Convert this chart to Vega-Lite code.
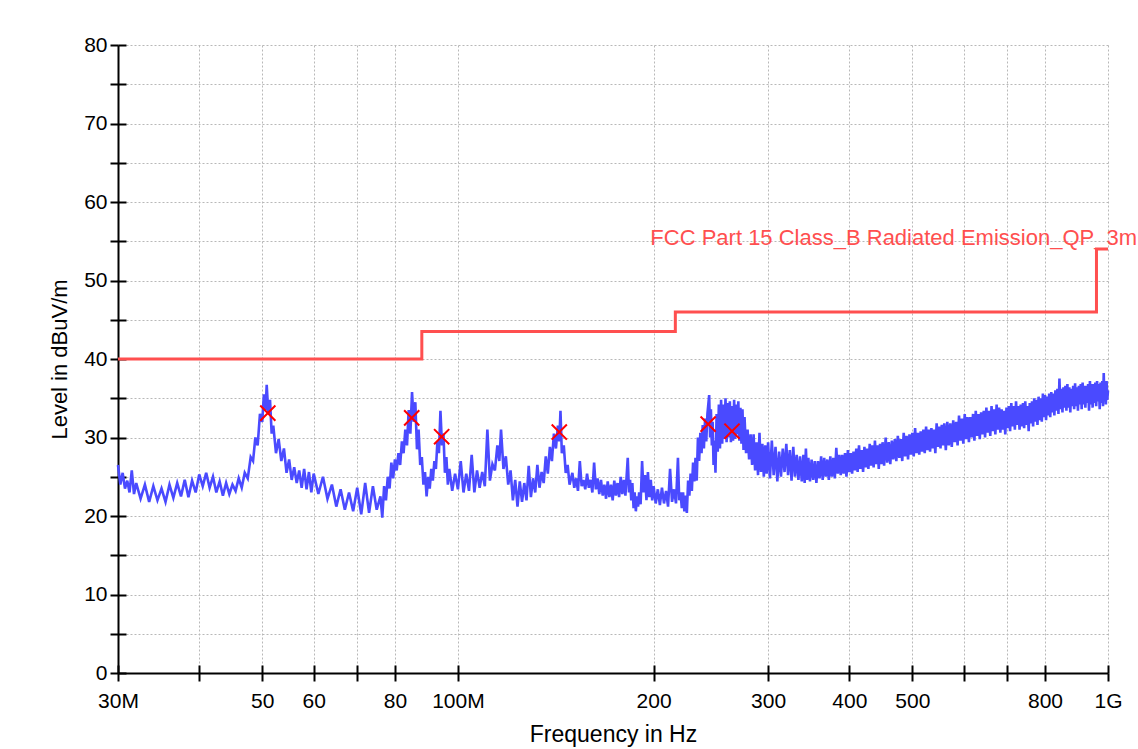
{
  "$schema": "https://vega.github.io/schema/vega-lite/v6.json",
  "autosize": "none",
  "width": 990,
  "height": 628,
  "padding": {"left": 118, "top": 45, "right": 30, "bottom": 76},
  "background": "white",
  "config": {
    "view": {"stroke": null},
    "axis": {
      "domainColor": "black", "domainWidth": 2,
      "tickColor": "black", "tickWidth": 2,
      "gridColor": "#b8b8b8", "gridDash": [2, 2], "gridWidth": 1,
      "labelColor": "black", "labelFont": "Liberation Sans", "labelFontSize": 21,
      "titleColor": "black", "titleFont": "Liberation Sans", "titleFontSize": 22, "titleFontWeight": "normal"
    }
  },
  "datasets": {
    "limit": [
      {"f": 30, "v": 40}, {"f": 88, "v": 43.5}, {"f": 216, "v": 46}, {"f": 960, "v": 54}, {"f": 1000, "v": 54}
    ],
    "peaks": [
      {"f": 51.0, "v": 33.1}, {"f": 84.9, "v": 32.5}, {"f": 94.4, "v": 30.1},
      {"f": 143.2, "v": 30.7}, {"f": 242.6, "v": 31.7}, {"f": 264.0, "v": 30.8}
    ],
    "label": [
      {"f": 1000, "v": 54, "text": "FCC Part 15 Class_B Radiated Emission_QP_3m"}
    ],
    "trace": [
      {"f":30,"v":26.5},{"f":30.25,"v":24.0},{"f":30.5,"v":25.5},{"f":30.75,"v":23.5},{"f":31,"v":24.5},{"f":31.25,"v":23.0},
      {"f":31.5,"v":25.8},{"f":31.75,"v":22.8},{"f":32,"v":24.2},{"f":32.5,"v":22.2},{"f":33,"v":24.0},{"f":33.5,"v":21.8},
      {"f":34,"v":23.8},{"f":34.5,"v":22.0},{"f":35,"v":23.5},{"f":35.5,"v":21.8},{"f":36,"v":24.0},{"f":36.5,"v":22.3},
      {"f":37,"v":24.2},{"f":37.5,"v":22.5},{"f":38,"v":24.6},{"f":38.5,"v":22.4},{"f":39,"v":24.5},{"f":39.5,"v":23.0},
      {"f":40,"v":25.3},{"f":40.5,"v":23.8},{"f":41,"v":25.5},{"f":41.5,"v":23.6},{"f":42,"v":25.0},{"f":42.5,"v":23.0},
      {"f":43,"v":24.4},{"f":43.5,"v":22.6},{"f":44,"v":24.2},{"f":44.5,"v":22.8},{"f":45,"v":24.0},{"f":45.5,"v":23.2},
      {"f":46,"v":24.8},{"f":46.5,"v":23.6},{"f":47,"v":25.5},{"f":47.5,"v":24.8},{"f":48,"v":27.5},{"f":48.4,"v":27.0},
      {"f":48.8,"v":30.0},{"f":49.2,"v":29.0},{"f":49.6,"v":33.0},{"f":50,"v":32.0},{"f":50.3,"v":35.5},{"f":50.6,"v":33.5},
      {"f":50.8,"v":36.7},{"f":51.1,"v":33.0},{"f":51.4,"v":34.8},{"f":51.7,"v":30.5},{"f":52,"v":31.5},{"f":52.5,"v":28.0},
      {"f":53,"v":29.8},{"f":53.5,"v":27.0},{"f":54,"v":28.6},{"f":54.5,"v":25.5},{"f":55,"v":27.2},{"f":55.5,"v":24.6},
      {"f":56,"v":26.2},{"f":56.5,"v":24.2},{"f":57,"v":25.8},{"f":57.5,"v":23.6},{"f":58,"v":26.0},{"f":58.5,"v":23.4},
      {"f":59,"v":25.6},{"f":59.5,"v":23.0},{"f":60,"v":25.4},{"f":61,"v":22.8},{"f":62,"v":25.0},{"f":63,"v":22.2},
      {"f":64,"v":24.0},{"f":65,"v":21.2},{"f":66,"v":23.4},{"f":67,"v":20.8},{"f":68,"v":23.0},{"f":69,"v":20.6},
      {"f":70,"v":23.6},{"f":71,"v":20.2},{"f":72,"v":24.2},{"f":73,"v":20.4},{"f":74,"v":23.8},{"f":75,"v":20.8},
      {"f":76,"v":22.5},{"f":76.5,"v":19.8},{"f":77,"v":23.8},{"f":77.5,"v":22.0},{"f":78,"v":25.0},{"f":78.5,"v":23.5},
      {"f":79,"v":26.8},{"f":79.5,"v":24.8},{"f":80,"v":27.2},{"f":80.5,"v":25.8},{"f":81,"v":28.0},{"f":81.5,"v":26.5},
      {"f":82,"v":29.5},{"f":82.5,"v":28.0},{"f":83,"v":31.0},{"f":83.5,"v":29.0},{"f":84,"v":33.5},{"f":84.5,"v":30.5},
      {"f":85,"v":35.8},{"f":85.5,"v":32.0},{"f":86,"v":34.5},{"f":86.5,"v":28.5},{"f":87,"v":31.0},{"f":87.5,"v":26.5},
      {"f":88,"v":27.5},{"f":88.5,"v":24.0},{"f":89,"v":25.6},{"f":89.5,"v":22.5},{"f":90,"v":25.0},{"f":90.5,"v":23.5},
      {"f":91,"v":26.0},{"f":91.5,"v":24.5},{"f":92,"v":27.0},{"f":92.5,"v":26.0},{"f":93,"v":29.5},{"f":93.5,"v":28.0},
      {"f":94,"v":33.4},{"f":94.5,"v":29.0},{"f":95,"v":30.5},{"f":95.5,"v":25.5},{"f":96,"v":27.5},{"f":96.5,"v":24.0},
      {"f":97,"v":26.0},{"f":98,"v":23.2},{"f":99,"v":25.4},{"f":100,"v":23.4},{"f":101,"v":27.0},{"f":102,"v":23.0},
      {"f":103,"v":25.4},{"f":104,"v":23.2},{"f":105,"v":27.8},{"f":106,"v":23.0},{"f":107,"v":25.8},{"f":108,"v":23.6},
      {"f":109,"v":25.6},{"f":110,"v":23.8},{"f":111,"v":31.0},{"f":112,"v":24.5},{"f":113,"v":26.6},{"f":114,"v":25.8},
      {"f":115,"v":29.0},{"f":115.8,"v":27.0},{"f":116.5,"v":31.0},{"f":117.5,"v":26.0},{"f":118.5,"v":27.6},{"f":119.5,"v":24.0},
      {"f":120.5,"v":25.8},{"f":121.5,"v":22.0},{"f":122.5,"v":24.6},{"f":123.5,"v":21.2},{"f":124.5,"v":24.4},{"f":125.5,"v":21.8},
      {"f":126.5,"v":24.2},{"f":127.5,"v":22.0},{"f":128.5,"v":26.4},{"f":129.5,"v":22.4},{"f":130.5,"v":24.8},{"f":131.5,"v":23.0},
      {"f":132.5,"v":26.5},{"f":133.5,"v":23.6},{"f":134.5,"v":25.6},{"f":135.5,"v":24.2},{"f":136.5,"v":27.6},{"f":137.5,"v":25.4},
      {"f":138.5,"v":28.8},{"f":139.5,"v":27.0},{"f":140.5,"v":30.5},{"f":141.5,"v":28.6},{"f":142.5,"v":31.5},{"f":143.2,"v":29.5},
      {"f":143.8,"v":33.4},{"f":144.5,"v":28.0},{"f":145.5,"v":29.0},{"f":146.5,"v":25.5},{"f":147.5,"v":26.5},{"f":148.5,"v":24.0},
      {"f":150,"v":25.5},{"f":151,"v":23.6},{"f":152,"v":24.8},{"f":153,"v":23.2},{"f":154,"v":27.0},{"f":155,"v":23.8},
      {"f":156,"v":24.6},{"f":157,"v":23.4},{"f":158,"v":25.4},{"f":159,"v":23.6},{"f":160,"v":24.6},{"f":161,"v":23.0},
      {"f":162,"v":26.8},{"f":163,"v":23.4},{"f":164,"v":24.8},{"f":165,"v":22.8},{"f":166,"v":24.6},{"f":167,"v":22.6},
      {"f":168,"v":24.0},{"f":169,"v":22.2},{"f":170,"v":24.4},{"f":171,"v":22.4},{"f":172,"v":24.0},{"f":173,"v":22.0},
      {"f":174,"v":24.5},{"f":175,"v":22.6},{"f":176,"v":24.2},{"f":177,"v":22.4},{"f":178,"v":25.0},{"f":179,"v":22.8},
      {"f":180,"v":24.6},{"f":181,"v":22.6},{"f":182.5,"v":27.4},{"f":183.3,"v":23.0},{"f":184,"v":24.6},{"f":184.8,"v":22.0},
      {"f":185.5,"v":24.2},{"f":186.3,"v":21.0},{"f":187,"v":23.0},{"f":187.8,"v":20.6},{"f":188.5,"v":22.5},{"f":189.3,"v":21.2},
      {"f":190,"v":23.0},{"f":191,"v":21.5},{"f":192,"v":27.0},{"f":193,"v":23.0},{"f":194,"v":25.2},{"f":195,"v":22.0},
      {"f":196,"v":25.6},{"f":197,"v":22.4},{"f":198,"v":24.6},{"f":199,"v":22.0},{"f":200,"v":23.8},{"f":201.5,"v":21.6},
      {"f":203,"v":23.4},{"f":204.5,"v":21.4},{"f":206,"v":23.6},{"f":207.5,"v":21.6},{"f":209,"v":23.2},{"f":210.5,"v":21.2},
      {"f":212,"v":26.0},{"f":213.5,"v":21.8},{"f":215,"v":23.4},{"f":216.5,"v":21.6},{"f":218,"v":27.4},{"f":219,"v":22.0},
      {"f":220,"v":23.0},{"f":221,"v":21.0},{"f":222,"v":23.0},{"f":223,"v":20.6},{"f":224,"v":22.6},{"f":225,"v":20.4},
      {"f":226,"v":24.5},{"f":227,"v":22.6},{"f":228,"v":25.4},{"f":229,"v":23.2},{"f":230,"v":26.8},{"f":231,"v":24.4},
      {"f":232,"v":27.4},{"f":233,"v":24.5},{"f":234,"v":30.0},{"f":235,"v":27.0},{"f":236,"v":30.6},{"f":237,"v":28.0},
      {"f":238,"v":31.6},{"f":239,"v":28.6},{"f":240,"v":32.4},{"f":241,"v":29.5},{"f":242,"v":33.0},{"f":243.5,"v":35.4},
      {"f":244.3,"v":30.0},{"f":245,"v":33.6},{"f":245.8,"v":29.0},{"f":246.5,"v":32.0},{"f":247.3,"v":26.5},{"f":248,"v":29.6},
      {"f":249,"v":25.5},{"f":250,"v":33.0},{"f":251,"v":28.2},{"f":252,"v":34.2},{"f":253,"v":28.6},{"f":254,"v":34.8},
      {"f":255,"v":29.2},{"f":256,"v":34.2},{"f":257,"v":29.8},{"f":258,"v":35.0},{"f":259,"v":29.4},{"f":260,"v":34.4},
      {"f":261,"v":30.0},{"f":262,"v":34.6},{"f":263,"v":29.4},{"f":264,"v":34.0},{"f":265,"v":29.6},{"f":266,"v":34.8},
      {"f":267,"v":29.8},{"f":268,"v":34.2},{"f":269,"v":30.4},{"f":270,"v":34.6},{"f":271,"v":29.6},{"f":272,"v":33.8},
      {"f":273,"v":29.2},{"f":274,"v":33.6},{"f":275,"v":28.4},{"f":276,"v":32.6},{"f":277.5,"v":28.0},{"f":279,"v":31.0},
      {"f":280.5,"v":27.2},{"f":282,"v":30.4},{"f":283.5,"v":26.5},{"f":285,"v":30.4},{"f":286.5,"v":25.8},{"f":288,"v":29.4},
      {"f":289.5,"v":25.2},{"f":291,"v":30.6},{"f":292.5,"v":25.6},{"f":294,"v":29.2},{"f":295.5,"v":25.0},{"f":297,"v":29.0},
      {"f":298.5,"v":25.4},{"f":300,"v":29.4},{"f":302,"v":24.8},{"f":304,"v":29.6},{"f":306,"v":25.2},{"f":308,"v":28.8},
      {"f":310,"v":24.4},{"f":312,"v":28.2},{"f":314,"v":25.0},{"f":316,"v":28.6},{"f":318,"v":25.6},{"f":320,"v":29.2},
      {"f":322,"v":25.2},{"f":324,"v":28.4},{"f":326,"v":24.5},{"f":328,"v":28.8},{"f":330,"v":25.0},{"f":332,"v":27.8},
      {"f":334,"v":24.6},{"f":336,"v":27.6},{"f":338,"v":24.4},{"f":340,"v":27.8},{"f":341.5,"v":24.2},{"f":343,"v":28.6},
      {"f":344.5,"v":24.6},{"f":346,"v":27.4},{"f":348,"v":24.4},{"f":350,"v":27.2},{"f":352,"v":24.6},{"f":354,"v":27.0},
      {"f":356,"v":24.2},{"f":358,"v":27.0},{"f":360,"v":24.8},{"f":362,"v":27.6},{"f":364,"v":24.6},{"f":366,"v":27.4},
      {"f":368,"v":25.0},{"f":370,"v":27.2},{"f":372,"v":24.6},{"f":374,"v":27.6},{"f":376,"v":25.0},{"f":378,"v":27.4},
      {"f":380,"v":24.8},{"f":382,"v":28.7},{"f":384,"v":25.4},{"f":386,"v":27.8},{"f":388,"v":25.2},{"f":390,"v":27.8},
      {"f":392,"v":25.4},{"f":394,"v":28.0},{"f":396,"v":25.0},{"f":398,"v":28.4},{"f":400,"v":25.6},{"f":402,"v":28.0},
      {"f":404,"v":25.4},{"f":406,"v":28.2},{"f":408,"v":25.8},{"f":410,"v":28.6},{"f":412,"v":25.6},{"f":414,"v":29.0},
      {"f":416,"v":26.0},{"f":418,"v":28.4},{"f":420,"v":25.6},{"f":422,"v":28.8},{"f":424,"v":26.2},{"f":426,"v":28.6},
      {"f":428,"v":26.0},{"f":430,"v":29.2},{"f":432,"v":26.4},{"f":434,"v":29.0},{"f":436,"v":26.2},{"f":438,"v":29.6},
      {"f":440,"v":26.6},{"f":442,"v":29.0},{"f":444,"v":26.0},{"f":446,"v":29.2},{"f":448,"v":26.6},{"f":450,"v":29.4},
      {"f":452.5,"v":26.4},{"f":455,"v":30.0},{"f":457.5,"v":26.8},{"f":460,"v":29.4},{"f":462.5,"v":26.6},{"f":465,"v":29.6},
      {"f":467.5,"v":27.2},{"f":470,"v":29.8},{"f":472.5,"v":27.0},{"f":475,"v":30.2},{"f":477.5,"v":27.4},{"f":480,"v":29.8},
      {"f":482.5,"v":27.0},{"f":485,"v":30.6},{"f":487.5,"v":27.6},{"f":490,"v":30.2},{"f":492.5,"v":27.2},{"f":495,"v":30.4},
      {"f":497.5,"v":27.8},{"f":500,"v":30.6},{"f":502.5,"v":27.6},{"f":505,"v":31.2},{"f":507.5,"v":28.0},{"f":510,"v":30.6},
      {"f":512.5,"v":27.8},{"f":515,"v":30.8},{"f":517.5,"v":28.2},{"f":520,"v":31.0},{"f":522.5,"v":28.0},{"f":525,"v":31.4},
      {"f":527.5,"v":28.4},{"f":530,"v":31.0},{"f":532.5,"v":28.2},{"f":535,"v":31.2},{"f":537.5,"v":28.6},{"f":540,"v":31.0},
      {"f":542.5,"v":28.0},{"f":545,"v":31.8},{"f":547.5,"v":28.8},{"f":550,"v":31.4},{"f":552.5,"v":28.6},{"f":555,"v":31.6},
      {"f":557.5,"v":29.0},{"f":560,"v":31.8},{"f":563,"v":28.4},{"f":566,"v":32.0},{"f":569,"v":29.0},{"f":572,"v":31.8},
      {"f":575,"v":28.8},{"f":578,"v":32.2},{"f":581,"v":29.4},{"f":584,"v":32.0},{"f":587,"v":29.0},{"f":590,"v":32.8},
      {"f":593,"v":29.6},{"f":596,"v":32.4},{"f":599,"v":29.2},{"f":602,"v":33.0},{"f":605,"v":29.8},{"f":608,"v":32.6},
      {"f":611,"v":29.4},{"f":614,"v":32.6},{"f":617,"v":30.0},{"f":620,"v":33.0},{"f":623,"v":29.6},{"f":626,"v":33.4},
      {"f":629,"v":30.2},{"f":632,"v":33.0},{"f":635,"v":29.8},{"f":638,"v":33.2},{"f":641,"v":30.4},{"f":644,"v":33.4},
      {"f":647,"v":30.0},{"f":650,"v":33.8},{"f":653,"v":30.6},{"f":656,"v":33.4},{"f":659,"v":30.2},{"f":662,"v":34.0},
      {"f":665,"v":30.8},{"f":668,"v":33.6},{"f":671,"v":30.4},{"f":674,"v":34.2},{"f":677,"v":31.0},{"f":680,"v":33.8},
      {"f":683,"v":30.6},{"f":686,"v":33.6},{"f":689,"v":31.0},{"f":692,"v":33.4},{"f":695,"v":30.4},{"f":698,"v":33.8},
      {"f":701,"v":31.2},{"f":704,"v":34.0},{"f":707,"v":30.8},{"f":710,"v":34.4},{"f":713,"v":31.4},{"f":716,"v":34.0},
      {"f":719,"v":31.0},{"f":722,"v":34.6},{"f":725,"v":31.6},{"f":728,"v":34.0},{"f":731,"v":31.0},{"f":734,"v":34.2},
      {"f":737,"v":31.4},{"f":740,"v":34.4},{"f":743,"v":31.2},{"f":746,"v":34.6},{"f":749,"v":31.6},{"f":752,"v":34.0},
      {"f":755,"v":30.8},{"f":758,"v":34.4},{"f":761,"v":31.8},{"f":764,"v":34.6},{"f":767,"v":31.4},{"f":770,"v":35.0},
      {"f":773,"v":32.0},{"f":776,"v":34.8},{"f":779,"v":31.6},{"f":782,"v":35.2},{"f":785,"v":32.2},{"f":788,"v":35.0},
      {"f":791,"v":32.0},{"f":794,"v":35.6},{"f":797,"v":32.6},{"f":800,"v":35.4},{"f":803,"v":32.2},{"f":806,"v":35.2},
      {"f":809,"v":32.8},{"f":812,"v":35.6},{"f":815,"v":32.6},{"f":818,"v":35.8},{"f":821,"v":33.2},{"f":824,"v":35.6},
      {"f":827,"v":32.8},{"f":830,"v":36.0},{"f":833,"v":33.4},{"f":836,"v":36.2},{"f":839,"v":33.0},{"f":842,"v":37.5},
      {"f":845,"v":33.6},{"f":848,"v":36.2},{"f":851,"v":33.2},{"f":854,"v":36.4},{"f":857,"v":33.8},{"f":860,"v":36.6},
      {"f":863,"v":33.4},{"f":866,"v":36.8},{"f":869,"v":33.8},{"f":872,"v":36.4},{"f":875,"v":33.2},{"f":878,"v":36.2},
      {"f":881,"v":34.0},{"f":884,"v":36.6},{"f":887,"v":33.6},{"f":890,"v":36.9},{"f":893,"v":34.0},{"f":896,"v":36.4},
      {"f":899,"v":33.4},{"f":902,"v":36.6},{"f":905,"v":34.2},{"f":908,"v":36.8},{"f":911,"v":33.6},{"f":914,"v":37.0},
      {"f":917,"v":34.2},{"f":920,"v":36.6},{"f":923,"v":33.8},{"f":926,"v":36.6},{"f":929,"v":34.4},{"f":932,"v":36.8},
      {"f":935,"v":33.4},{"f":938,"v":37.2},{"f":941,"v":34.2},{"f":944,"v":36.8},{"f":947,"v":33.8},{"f":950,"v":36.8},
      {"f":953,"v":34.4},{"f":956,"v":37.0},{"f":959,"v":34.0},{"f":962,"v":37.2},{"f":965,"v":34.6},{"f":968,"v":36.8},
      {"f":971,"v":33.6},{"f":974,"v":37.0},{"f":977,"v":34.4},{"f":980,"v":37.2},{"f":982.5,"v":34.0},{"f":985,"v":38.2},
      {"f":987.5,"v":34.6},{"f":990,"v":37.0},{"f":992.5,"v":34.2},{"f":995,"v":37.2},{"f":997.5,"v":34.8},{"f":1000,"v":36.0}
    ]
  },
  "resolve": {"axis": {"x": "independent", "y": "independent"}},
  "layer": [
    {
      "data": {"name": "limit"},
      "mark": {"type": "line", "interpolate": "step-after", "color": "#ff4f4f", "strokeWidth": 3},
      "encoding": {
        "x": {
          "field": "f", "type": "quantitative",
          "scale": {"type": "log", "domain": [30, 1000], "nice": false},
          "axis": {
            "orient": "bottom",
            "values": [30, 40, 50, 60, 70, 80, 100, 200, 300, 400, 500, 600, 700, 800, 1000],
            "labelExpr": "datum.value == 30 ? '30M' : datum.value == 100 ? '100M' : datum.value == 1000 ? '1G' : (indexof([50, 60, 80, 200, 300, 400, 500, 800], datum.value) >= 0 ? '' + datum.value : '')",
            "title": "Frequency in Hz", "titleFontSize": 23,
            "grid": true, "tickSize": 8, "labelPadding": 9, "titlePadding": 12,
            "labelFlush": false, "labelOverlap": false
          }
        },
        "y": {
          "field": "v", "type": "quantitative",
          "scale": {"domain": [0, 80], "nice": false, "zero": false},
          "axis": {
            "orient": "left",
            "values": [0, 5, 10, 15, 20, 25, 30, 35, 40, 45, 50, 55, 60, 65, 70, 75, 80],
            "labelExpr": "datum.value % 10 == 0 ? datum.label : ''",
            "title": "Level in dBuV/m",
            "grid": true, "tickSize": 8, "labelPadding": 3, "titlePadding": 12,
            "labelOverlap": false
          }
        }
      }
    },
    {
      "data": {"name": "trace"},
      "mark": {"type": "line", "color": "#4a4aff", "strokeWidth": 2.6},
      "encoding": {
        "x": {
          "field": "f", "type": "quantitative",
          "axis": {
            "orient": "bottom",
            "values": [30, 40, 50, 60, 70, 80, 100, 200, 300, 400, 500, 600, 700, 800, 1000],
            "tickSize": -8, "labels": false, "domain": false, "grid": false, "title": null
          }
        },
        "y": {
          "field": "v", "type": "quantitative",
          "axis": {
            "orient": "left",
            "values": [0, 5, 10, 15, 20, 25, 30, 35, 40, 45, 50, 55, 60, 65, 70, 75, 80],
            "tickSize": -8, "labels": false, "domain": false, "grid": false, "title": null
          }
        }
      }
    },
    {
      "data": {"name": "peaks"},
      "mark": {"type": "point", "shape": "M-1,-1L1,1M-1,1L1,-1", "filled": false, "stroke": "#ff0000", "strokeWidth": 2, "size": 230, "opacity": 1},
      "encoding": {
        "x": {"field": "f", "type": "quantitative", "axis": null},
        "y": {"field": "v", "type": "quantitative", "axis": null}
      }
    },
    {
      "data": {"name": "label"},
      "mark": {"type": "text", "align": "right", "baseline": "alphabetic", "dx": 29, "dy": -4, "font": "Liberation Sans", "fontSize": 22, "color": "#ff4f4f"},
      "encoding": {
        "x": {"field": "f", "type": "quantitative", "axis": null},
        "y": {"field": "v", "type": "quantitative", "axis": null},
        "text": {"field": "text"}
      }
    }
  ]
}
